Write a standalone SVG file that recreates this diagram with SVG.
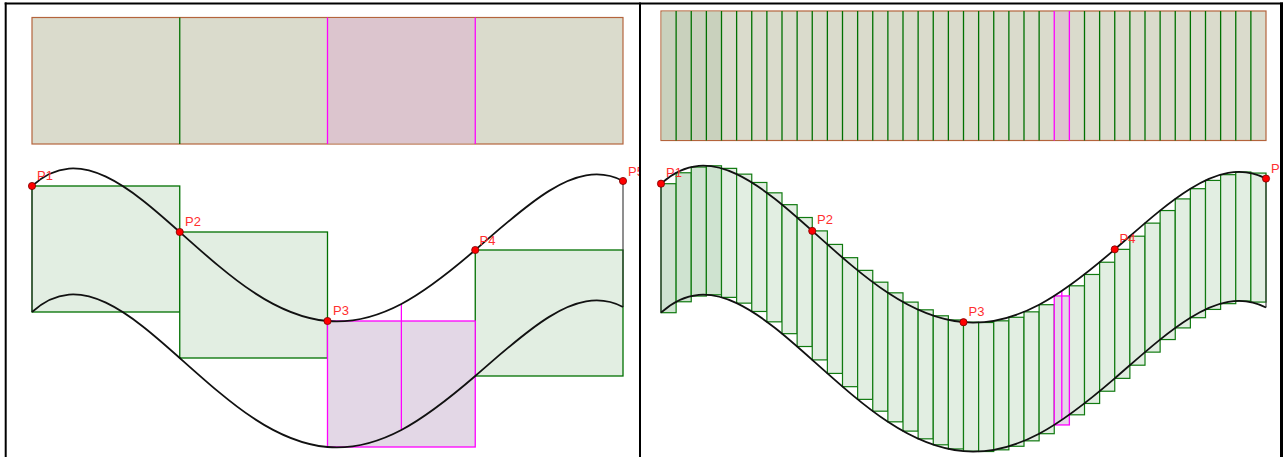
<svg xmlns="http://www.w3.org/2000/svg" width="1283" height="457" viewBox="0 0 1283 457">
<style>
.bar{fill:#dadbcc;stroke:#b4643c;stroke-width:1.2}
.barm{fill:#dcc5ce;stroke:none}
.gdiv{stroke:#007000;stroke-width:1.3;fill:none}
.mdiv{stroke:#ff00ff;stroke-width:1.3;fill:none}
.r{fill:#e2eee2;stroke:#007000;stroke-width:1.3}
.s{fill:#e2eee2;stroke:#107a10;stroke-width:1.2}
.dk{fill:#cfe3d0}
.m{fill:#e3d7e6;stroke:#ff00ff;stroke-width:1.3}
.crv{fill:none;stroke:#111;stroke-width:1.8}
.edge{stroke:#333;stroke-width:1.1;fill:none}
.pt{fill:#ff0000;stroke:#700;stroke-width:0.8}
.lbl{font-family:"Liberation Sans",Arial,sans-serif;font-size:13px;fill:#ff2f2f}
.frame{stroke:#000;fill:none}
</style>
<defs>
<clipPath id="clipL"><rect x="0" y="0" width="639" height="457"/></clipPath>
<clipPath id="clipR"><rect x="641" y="0" width="639" height="457"/></clipPath>
<path id="curveL" d="M32,186 C56.63,163.6 81.25,165.07 105.88,176.68 C130.5,188.29 155.13,210.04 179.75,232 C204.38,253.960 229,276.13 253.63,292.37 C278.25,308.61 302.88,318.93 327.5,321 C352.13,323.07 376.75,316.89 401.38,303.93 C426,290.97 450.63,271.24 475.25,250 C499.88,228.76 524.5,206.03 549.13,190.87 C573.75,175.71 598.38,168.13 623,181"/>
<path id="curveR" d="M661,183.7 C686.21,160.72 711.42,162.23 736.63,174.14 C761.83,186.05 787.04,208.37 812.25,230.9 C837.46,253.43 862.67,276.17 887.88,292.83 C913.08,309.49 938.29,320.09 963.5,322.21 C988.71,324.33 1013.92,318 1039.13,304.7 C1064.33,291.4 1089.54,271.15 1114.75,249.36 C1139.96,227.57 1165.17,204.25 1190.38,188.7 C1215.58,173.15 1240.79,165.36 1266,178.57"/>
</defs>
<rect x="0" y="0" width="1283" height="457" fill="#ffffff"/>

<g id="left-panel" clip-path="url(#clipL)">
  <g id="left-bar">
    <rect class="bar" x="32" y="17.5" width="591" height="126.5"/>
    <rect class="barm" x="328" y="18.1" width="146.6" height="125.3"/>
    <line class="gdiv" x1="179.75" y1="17.5" x2="179.75" y2="144"/>
    <line class="mdiv" x1="327.5" y1="17.5" x2="327.5" y2="144"/>
    <line class="mdiv" x1="475.25" y1="17.5" x2="475.25" y2="144"/>
  </g>
  <g id="left-rects">
    <rect class="r" x="32" y="186" width="147.75" height="126"/>
    <rect class="r" x="179.75" y="232" width="147.75" height="126"/>
    <rect class="r" x="475.25" y="250" width="147.75" height="126"/>
    <rect class="m" x="327.5" y="321" width="147.75" height="126"/>
  </g>
  <g id="left-curves">
    <line class="edge" x1="32" y1="186" x2="32" y2="312"/>
    <line class="edge" x1="623" y1="181" x2="623" y2="307"/>
    <line class="mdiv" x1="401.38" y1="303.93" x2="401.38" y2="429.93"/>
    <use href="#curveL" class="crv"/>
    <use href="#curveL" class="crv" transform="translate(0,126)"/>
  </g>
  <g id="left-points">
    <circle class="pt" cx="32" cy="186" r="3.6"/>
    <circle class="pt" cx="179.75" cy="232" r="3.6"/>
    <circle class="pt" cx="327.5" cy="321" r="3.6"/>
    <circle class="pt" cx="475.25" cy="250" r="3.6"/>
    <circle class="pt" cx="623" cy="181" r="3.6"/>
    <text class="lbl" x="37" y="180">P1</text>
    <text class="lbl" x="185" y="226">P2</text>
    <text class="lbl" x="333" y="315">P3</text>
    <text class="lbl" x="479.5" y="245">P4</text>
    <text class="lbl" x="628" y="176">P5</text>
  </g>
</g>

<g id="right-panel" clip-path="url(#clipR)">
  <g id="right-bar">
    <rect class="bar" x="661" y="11" width="605" height="129.5"/>
    <rect x="661.6" y="11.6" width="59.9" height="128.3" fill="#c9d1bd"/>
    <rect class="barm" x="1054.25" y="11.6" width="15.125" height="128.3"/>
    <g class="gdiv">
      <path d="M676.125,11V140.5M691.25,11V140.5M706.375,11V140.5M721.5,11V140.5M736.625,11V140.5M751.75,11V140.5M766.875,11V140.5M782,11V140.5M797.125,11V140.5M812.25,11V140.5M827.375,11V140.5M842.5,11V140.5M857.625,11V140.5M872.75,11V140.5M887.875,11V140.5M903,11V140.5M918.125,11V140.5M933.25,11V140.5M948.375,11V140.5M963.5,11V140.5M978.625,11V140.5M993.75,11V140.5M1008.875,11V140.5M1024,11V140.5M1039.125,11V140.5M1084.5,11V140.5M1099.625,11V140.5M1114.75,11V140.5M1129.875,11V140.5M1145,11V140.5M1160.125,11V140.5M1175.25,11V140.5M1190.375,11V140.5M1205.5,11V140.5M1220.625,11V140.5M1235.75,11V140.5M1250.875,11V140.5"/>
    </g>
    <path class="mdiv" d="M1054.25,11V140.5M1069.375,11V140.5"/>
  </g>
  <g id="right-strips">
    <rect class="s dk" x="661" y="183.7" width="15.125" height="129"/>
    <rect class="s dk" x="676.125" y="172.76" width="15.125" height="129"/>
    <rect class="s dk" x="691.25" y="167.03" width="15.125" height="129"/>
    <rect class="s dk" x="706.375" y="165.8" width="15.125" height="129"/>
    <rect class="s" x="721.5" y="168.37" width="15.125" height="129"/>
    <rect class="s" x="736.625" y="174.14" width="15.125" height="129"/>
    <rect class="s" x="751.75" y="182.48" width="15.125" height="129"/>
    <rect class="s" x="766.875" y="192.83" width="15.125" height="129"/>
    <rect class="s" x="782" y="204.67" width="15.125" height="129"/>
    <rect class="s" x="797.125" y="217.51" width="15.125" height="129"/>
    <rect class="s" x="812.25" y="230.9" width="15.125" height="129"/>
    <rect class="s" x="827.375" y="244.42" width="15.125" height="129"/>
    <rect class="s" x="842.5" y="257.68" width="15.125" height="129"/>
    <rect class="s" x="857.625" y="270.38" width="15.125" height="129"/>
    <rect class="s" x="872.75" y="282.18" width="15.125" height="129"/>
    <rect class="s" x="887.875" y="292.83" width="15.125" height="129"/>
    <rect class="s" x="903" y="302.11" width="15.125" height="129"/>
    <rect class="s" x="918.125" y="309.82" width="15.125" height="129"/>
    <rect class="s" x="933.25" y="315.81" width="15.125" height="129"/>
    <rect class="s" x="948.375" y="319.96" width="15.125" height="129"/>
    <rect class="s" x="963.5" y="322.21" width="15.125" height="129"/>
    <rect class="s" x="978.625" y="322.51" width="15.125" height="129"/>
    <rect class="s" x="993.75" y="320.84" width="15.125" height="129"/>
    <rect class="s" x="1008.875" y="317.27" width="15.125" height="129"/>
    <rect class="s" x="1024" y="311.85" width="15.125" height="129"/>
    <rect class="s" x="1039.125" y="304.7" width="15.125" height="129"/>
    <rect class="s" x="1069.375" y="285.81" width="15.125" height="129"/>
    <rect class="s" x="1084.5" y="274.48" width="15.125" height="129"/>
    <rect class="s" x="1099.625" y="262.23" width="15.125" height="129"/>
    <rect class="s" x="1114.75" y="249.36" width="15.125" height="129"/>
    <rect class="s" x="1129.875" y="236.2" width="15.125" height="129"/>
    <rect class="s" x="1145" y="223.13" width="15.125" height="129"/>
    <rect class="s" x="1160.125" y="210.55" width="15.125" height="129"/>
    <rect class="s" x="1175.25" y="198.91" width="15.125" height="129"/>
    <rect class="s" x="1190.375" y="188.7" width="15.125" height="129"/>
    <rect class="s" x="1205.5" y="180.42" width="15.125" height="129"/>
    <rect class="s" x="1220.625" y="174.66" width="15.125" height="129"/>
    <rect class="s" x="1235.75" y="172" width="15.125" height="129"/>
    <rect class="s" x="1250.875" y="173.08" width="15.125" height="129"/>
    <rect class="m" x="1054.25" y="295.95" width="15.125" height="129"/>
  </g>
  <g id="right-curves">
    <line class="edge" x1="661" y1="183.7" x2="661" y2="312.7"/>
    <line class="edge" x1="1266" y1="178.57" x2="1266" y2="307.57"/>
    <line class="mdiv" x1="1061.8" y1="291" x2="1061.8" y2="420"/>
    <use href="#curveR" class="crv"/>
    <use href="#curveR" class="crv" transform="translate(0,129)"/>
  </g>
  <g id="right-points">
    <circle class="pt" cx="661" cy="183.7" r="3.6"/>
    <circle class="pt" cx="812.25" cy="230.9" r="3.6"/>
    <circle class="pt" cx="963.5" cy="322.21" r="3.6"/>
    <circle class="pt" cx="1114.75" cy="249.36" r="3.6"/>
    <circle class="pt" cx="1266" cy="178.57" r="3.6"/>
    <text class="lbl" x="666" y="177">P1</text>
    <text class="lbl" x="817" y="224">P2</text>
    <text class="lbl" x="968.5" y="315.5">P3</text>
    <text class="lbl" x="1119.5" y="242.5">P4</text>
    <text class="lbl" x="1271" y="172.5">P5</text>
  </g>
</g>

<g id="frame">
  <line class="frame" x1="4.7" y1="3.5" x2="1283" y2="3.5" stroke-width="2"/>
  <line class="frame" x1="5.7" y1="2.5" x2="5.7" y2="457" stroke-width="2"/>
  <line class="frame" x1="640" y1="2.5" x2="640" y2="457" stroke-width="2"/>
  <line class="frame" x1="1281.5" y1="2.5" x2="1281.5" y2="457" stroke-width="3"/>
</g>
</svg>
